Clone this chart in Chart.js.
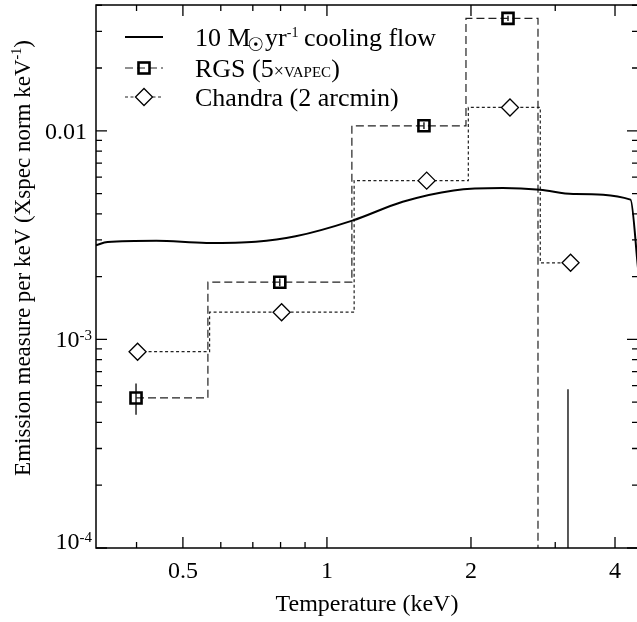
<!DOCTYPE html>
<html>
<head>
<meta charset="utf-8">
<script src="https://cdn.jsdelivr.net/npm/chart.js@4.4.1/dist/chart.umd.min.js"></script>
<style>
  html, body { margin: 0; padding: 0; background: #fff; overflow: hidden; }
  #wrap { width: 640px; height: 622px; }
</style>
</head>
<body>
<div id="wrap"><canvas id="emChart" width="640" height="622"></canvas></div>
<script>
// ---- values ----
// 10 Msun/yr cooling flow model
const coolT  = [0.329, 0.348, 0.44, 0.56, 0.71, 0.86, 1.13, 1.44, 1.84, 2.33, 2.79, 3.27, 4.31, 4.468];
const coolEM = [2.83e-3, 2.93e-3, 2.97e-3, 2.90e-3, 2.94e-3, 3.12e-3, 3.71e-3, 4.57e-3, 5.18e-3, 5.32e-3, 5.22e-3, 4.98e-3, 4.68e-3, 2.2e-3];

// RGS (5 x VAPEC), last bin is below the plotted range
const rgsT   = [0.399, 0.797, 1.595, 2.39, 3.19];
const rgsEM  = [5.24e-4, 1.88e-3, 1.057e-2, 3.46e-2, 1e-5];
const rgsLo  = [4.35e-4, 1.80e-3, 1.02e-2, 3.36e-2, 1e-6];
const rgsHi  = [6.14e-4, 1.96e-3, 1.10e-2, 3.56e-2, 5.77e-4];

// Chandra (2 arcmin)
const chandraT  = [0.402, 0.804, 1.616, 2.413, 3.23];
const chandraEM = [8.73e-4, 1.35e-3, 5.77e-3, 1.294e-2, 2.33e-3];

// axes
const xMin = 0.3291, xMax = 4.468;
const yMin = 1e-4, yMax = 0.0401;
const xTicks      = [0.5, 1, 2, 4];
const xMinorTicks = [0.4, 0.6, 0.7, 0.8, 0.9, 3];
const yTicks      = [1e-4, 1e-3, 1e-2];
const yTickBase   = ['10', '10', '0.01'];
const yTickSup    = ['-4', '-3', ''];
const yMinorTicks = [2e-4, 3e-4, 4e-4, 5e-4, 6e-4, 7e-4, 8e-4, 9e-4,
                     2e-3, 3e-3, 4e-3, 5e-3, 6e-3, 7e-3, 8e-3, 9e-3,
                     2e-2, 3e-2, 4e-2];

const SERIF = '"Liberation Serif", "Times New Roman", serif';
const RGS_DASH = [8, 4];
const CH_DASH = [3, 2.5];

function pts(xs, ys) { return xs.map((t, i) => ({ x: t, y: ys[i] })); }

function setFont(ctx, p) {
  ctx.font = (p.weight || 'normal') + ' ' + p.size + 'px ' + (p.family || SERIF);
}
function drawRich(ctx, x, base, parts) {
  parts.forEach(p => {
    setFont(ctx, p);
    x += p.kern || 0;
    ctx.fillText(p.t, x, base + (p.dy || 0));
    x += p.adv != null ? p.adv : ctx.measureText(p.t).width;
  });
  return x;
}
function richWidth(ctx, parts) {
  let w = 0;
  parts.forEach(p => {
    setFont(ctx, p);
    w += (p.kern || 0) + (p.adv != null ? p.adv : ctx.measureText(p.t).width);
  });
  return w;
}

function square(ctx, x, y) {
  ctx.lineWidth = 2.6; ctx.strokeStyle = '#000'; ctx.setLineDash([]);
  ctx.strokeRect(x - 5.5, y - 5.5, 11, 11);
}
function diamond(ctx, x, y) {
  ctx.lineWidth = 1.3; ctx.strokeStyle = '#000'; ctx.fillStyle = '#fff'; ctx.setLineDash([]);
  ctx.beginPath();
  ctx.moveTo(x - 8.5, y); ctx.lineTo(x, y - 8.5); ctx.lineTo(x + 8.5, y); ctx.lineTo(x, y + 8.5);
  ctx.closePath(); ctx.fill(); ctx.stroke();
}

const framePlugin = {
  id: 'frame',
  beforeDatasetsDraw(chart) {
    const { ctx, chartArea: a, scales: { x, y } } = chart;
    ctx.save();
    ctx.beginPath(); ctx.rect(a.left, a.top, a.right - a.left, a.bottom - a.top); ctx.clip();
    ctx.strokeStyle = '#000'; ctx.lineWidth = 1.3;
    rgsT.forEach((t, i) => {
      const px = x.getPixelForValue(t);
      ctx.beginPath();
      ctx.moveTo(px, y.getPixelForValue(rgsLo[i]));
      ctx.lineTo(px, y.getPixelForValue(rgsHi[i]));
      ctx.stroke();
    });
    ctx.restore();
  },
  afterDraw(chart) {
    const { ctx, chartArea: a, scales: { x, y } } = chart;
    ctx.save();
    ctx.strokeStyle = '#000';
    ctx.lineWidth = 1.5;
    ctx.strokeRect(a.left, a.top, a.right - a.left, a.bottom - a.top);

    // inward ticks on all four sides
    ctx.lineWidth = 1.3;
    const xt = (v, len) => {
      const px = x.getPixelForValue(v);
      ctx.beginPath();
      ctx.moveTo(px, a.bottom); ctx.lineTo(px, a.bottom - len);
      ctx.moveTo(px, a.top); ctx.lineTo(px, a.top + len);
      ctx.stroke();
    };
    const yt = (v, len) => {
      const py = y.getPixelForValue(v);
      ctx.beginPath();
      ctx.moveTo(a.left, py); ctx.lineTo(a.left + len, py);
      ctx.moveTo(a.right, py); ctx.lineTo(a.right - len, py);
      ctx.stroke();
    };
    xTicks.forEach(v => xt(v, 11));
    xMinorTicks.forEach(v => xt(v, 6));
    yTicks.forEach(v => yt(v, 11));
    yMinorTicks.forEach(v => yt(v, 6));

    // y tick labels with superscripts
    ctx.fillStyle = '#000';
    ctx.textBaseline = 'alphabetic';
    ctx.textAlign = 'left';
    yTicks.forEach((v, i) => {
      const py = Math.min(y.getPixelForValue(v), a.bottom - 7);
      const base = py + 8;
      const parts = [{ t: yTickBase[i], size: 24 }];
      if (yTickSup[i]) parts.push({ t: yTickSup[i], size: 15, dy: -7 });
      const w = richWidth(ctx, parts);
      const right = yTickSup[i] ? a.left - 4 : a.left - 9;
      drawRich(ctx, right - w, base, parts);
    });

    // y axis title
    ctx.save();
    ctx.translate(29.5, 258);
    ctx.rotate(-Math.PI / 2);
    const title = [
      { t: 'Emission measure per keV (Xspec norm keV', size: 23 },
      { t: '-1', size: 14, dy: -9 },
      { t: ')', size: 23 }
    ];
    drawRich(ctx, -richWidth(ctx, title) / 2, 0, title);
    ctx.restore();

    // legend
    const lx0 = 125, lx1 = 163, lxm = 144, tx = 195;
    const rows = [45.5, 76.5, 105.5];
    const sym = rows.map(b => b - 8.5);

    ctx.lineWidth = 2; ctx.strokeStyle = '#000'; ctx.setLineDash([]);
    ctx.beginPath(); ctx.moveTo(lx0, sym[0]); ctx.lineTo(lx1, sym[0]); ctx.stroke();

    ctx.lineWidth = 1.2; ctx.strokeStyle = '#222'; ctx.setLineDash(RGS_DASH);
    ctx.beginPath(); ctx.moveTo(lx0, sym[1]); ctx.lineTo(lx1, sym[1]); ctx.stroke();
    square(ctx, lxm, sym[1]);

    ctx.lineWidth = 1.2; ctx.strokeStyle = '#222'; ctx.setLineDash(CH_DASH);
    ctx.beginPath(); ctx.moveTo(lx0, sym[2]); ctx.lineTo(lx1, sym[2]); ctx.stroke();
    diamond(ctx, lxm, sym[2]);

    ctx.fillStyle = '#000';
    drawRich(ctx, tx, rows[0], [
      { t: '10 M', size: 26 },
      { t: '\u2609', size: 19, dy: 5, weight: 'bold', family: '"DejaVu Sans", sans-serif', kern: -3, adv: 12 },
      { t: ' yr', size: 26, kern: -1 },
      { t: '-1', size: 14, dy: -9 },
      { t: ' cooling flow', size: 26, kern: -1 }
    ]);
    drawRich(ctx, tx, rows[1], [
      { t: 'RGS (5', size: 26 },
      { t: '\u00d7', size: 18 },
      { t: 'VAPEC', size: 15 },
      { t: ')', size: 26 }
    ]);
    drawRich(ctx, tx, rows[2], [
      { t: 'Chandra (2 arcmin)', size: 26 }
    ]);
    ctx.restore();
  }
};

new Chart(document.getElementById('emChart'), {
  type: 'line',
  data: {
    datasets: [
      {
        label: '10 Msun/yr cooling flow',
        data: pts(coolT, coolEM),
        borderColor: '#000',
        borderWidth: 2,
        pointRadius: 0,
        cubicInterpolationMode: 'monotone',
        fill: false
      },
      {
        label: 'RGS (5xVAPEC)',
        data: pts(rgsT, rgsEM),
        stepped: 'middle',
        borderColor: '#222',
        borderWidth: 1.2,
        borderDash: RGS_DASH,
        pointStyle: 'rect',
        pointRadius: 7.8,
        pointBorderWidth: 2.6,
        pointBorderColor: '#000',
        pointBackgroundColor: 'rgba(0,0,0,0)',
        fill: false
      },
      {
        label: 'Chandra (2 arcmin)',
        data: pts(chandraT, chandraEM),
        stepped: 'middle',
        borderColor: '#222',
        borderWidth: 1.2,
        borderDash: CH_DASH,
        pointStyle: 'rectRot',
        pointRadius: 8.5,
        pointBorderWidth: 1.3,
        pointBorderColor: '#000',
        pointBackgroundColor: '#fff',
        fill: false
      }
    ]
  },
  options: {
    responsive: false,
    animation: false,
    layout: { autoPadding: false, padding: { top: 5, right: 2, left: 0, bottom: 0 } },
    plugins: { legend: { display: false }, tooltip: { enabled: false } },
    scales: {
      x: {
        type: 'logarithmic',
        position: 'bottom',
        bounds: 'data',
        min: xMin,
        max: xMax,
        grid: { display: false, drawTicks: false },
        border: { display: false },
        afterBuildTicks: s => {
          s.ticks = xTicks.map(v => ({ value: v }));
          s.min = xMin; s.max = xMax;
        },
        afterFit: s => {
          s.height = 74;
          s.paddingLeft = 0; s.paddingRight = 0;
        },
        ticks: {
          autoSkip: false,
          maxRotation: 0,
          padding: 9,
          color: '#000',
          font: { family: SERIF, size: 24 },
          callback: v => String(v)
        },
        title: {
          display: true,
          text: 'Temperature (keV)',
          color: '#000',
          font: { family: SERIF, size: 24 },
          padding: { top: 0, bottom: 3 }
        }
      },
      y: {
        type: 'logarithmic',
        bounds: 'data',
        min: yMin,
        max: yMax,
        grid: { display: false, drawTicks: false },
        border: { display: false },
        ticks: { display: false },
        afterBuildTicks: s => { s.min = yMin; s.max = yMax; },
        afterFit: s => {
          s.width = 96;
          s.paddingTop = 0; s.paddingBottom = 0;
        }
      }
    }
  },
  plugins: [framePlugin]
});
</script>
</body>
</html>
